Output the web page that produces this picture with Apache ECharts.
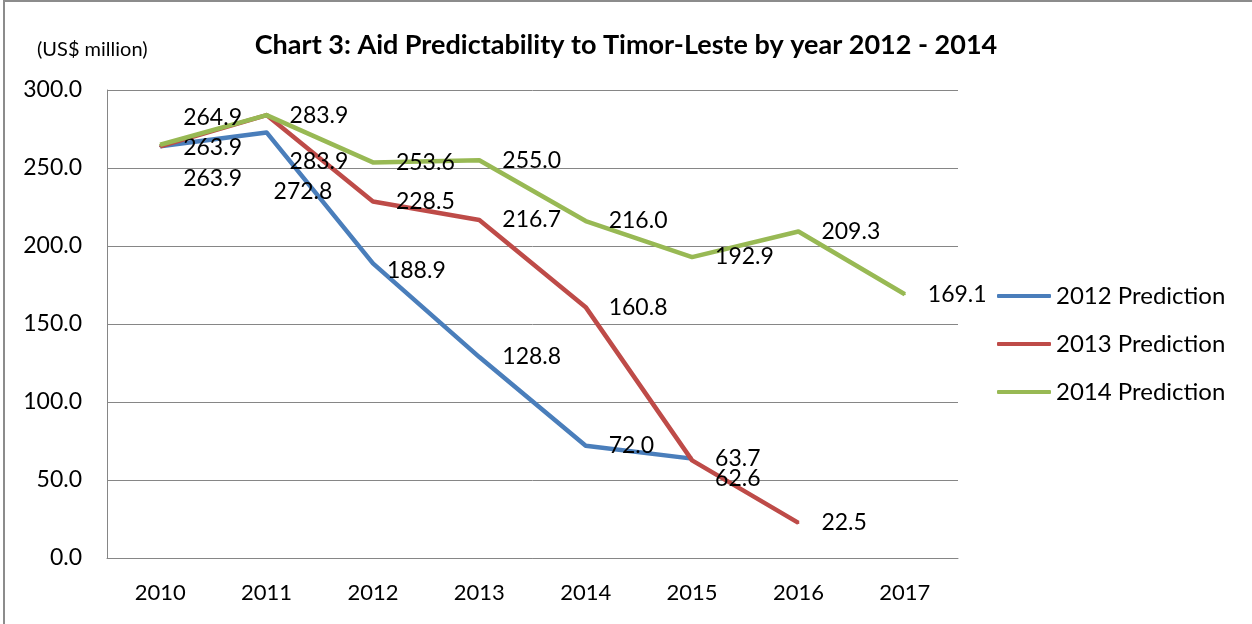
<!DOCTYPE html>
<html>
<head>
<meta charset="utf-8">
<title>Aid Predictability to Timor-Leste</title>
<script src="https://cdn.jsdelivr.net/npm/echarts@6/dist/echarts.min.js"></script>
<style>
  html, body { margin: 0; padding: 0; background: #fff; }
  #chart { width: 1252px; height: 624px; }
</style>
</head>
<body>
<div id="chart"></div>
<script>
// data
const years = ['2010', '2011', '2012', '2013', '2014', '2015', '2016', '2017']
const pred2012 = [263.9, 272.8, 188.9, 128.8, 72.0, 63.7, null, null]
const pred2013 = [263.9, 283.9, 228.5, 216.7, 160.8, 62.6, 22.5, null]
const pred2014 = [264.9, 283.9, 253.6, 255.0, 216.0, 192.9, 209.3, 169.1]
const seriesNames = ['2012 Prediction', '2013 Prediction', '2014 Prediction']
const yTicks = [0, 50, 100, 150, 200, 250, 300]

// a few labels were nudged by hand in the original (per series index -> data index -> [dx, dy])
const labelNudge = [
  { 0: [0, 32], 1: [-16, 59], 2: [-9, 7] },
  { 0: [0, 1], 1: [0, 46], 5: [0, 18] },
  { 0: [0, -27] }
]

const colors = ['#4A7EBB', '#BE4B48', '#98B954']
const font = 'Lato, "Open Sans", sans-serif'

const chart = echarts.init(document.getElementById('chart'))

const option = {
  animation: false,
  color: colors,
  title: [{
    text: 'Chart 3: Aid Predictability to Timor-Leste by year 2012 - 2014',
    left: 'center',
    top: 27,
    textStyle: { fontFamily: font, fontWeight: 'bold', fontSize: 27, color: '#000' }
  }, {
    text: '(US$ million)',
    left: 32,
    top: 35,
    textStyle: { fontFamily: font, fontWeight: 'normal', fontSize: 20, color: '#000' }
  }],
  graphic: [{
    type: 'rect',
    shape: { x: 4, y: 1, width: 1300, height: 700 },
    style: { fill: 'none', stroke: '#8c8c8c', lineWidth: 2 },
    silent: true
  }],
  legend: {
    orient: 'vertical',
    left: 992,
    top: 279,
    itemWidth: 54,
    itemHeight: 4,
    itemGap: 24,
    icon: 'roundRect',
    data: seriesNames,
    textStyle: { fontFamily: font, fontSize: 24, color: '#000' }
  },
  grid: {
    left: 107,
    right: 294,
    top: 90,
    bottom: 66,
    containLabel: false
  },
  xAxis: {
    type: 'category',
    data: years,
    boundaryGap: true,
    axisLine: { lineStyle: { color: '#868686', width: 1 } },
    axisTick: { show: false },
    axisLabel: { fontFamily: font, fontSize: 22, color: '#000', margin: 24 }
  },
  yAxis: {
    type: 'value',
    min: yTicks[0],
    max: yTicks[yTicks.length - 1],
    interval: yTicks[1] - yTicks[0],
    axisLine: { show: true, lineStyle: { color: '#868686', width: 1 } },
    axisTick: { show: false },
    splitLine: { lineStyle: { color: '#868686', width: 1 } },
    axisLabel: {
      fontFamily: font, fontSize: 23, color: '#000', margin: 25,
      formatter: v => v.toFixed(1)
    }
  },
  series: [pred2012, pred2013, pred2014].map((vals, k) => ({
    type: 'line',
    name: seriesNames[k],
    data: vals,
    symbol: 'circle',
    symbolSize: 2,
    showSymbol: true,
    connectNulls: false,
    lineStyle: { width: 4.5, color: colors[k], join: 'round' },
    itemStyle: { color: colors[k] },
    label: {
      show: true,
      position: 'right',
      distance: 22,
      offset: [0, 2],
      fontFamily: font,
      fontSize: 23,
      color: '#000',
      formatter: p => Number(p.value).toFixed(1)
    },
    labelLayout: params => {
      const n = labelNudge[k][params.dataIndex]
      return n ? { dx: n[0], dy: n[1], hideOverlap: false } : { hideOverlap: false }
    },
    z: k + 2
  }))
}

chart.setOption(option)
</script>
</body>
</html>
